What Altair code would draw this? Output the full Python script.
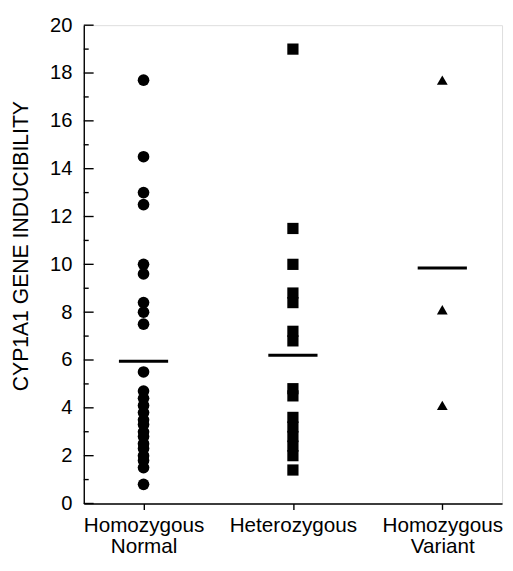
import altair as alt
import pandas as pd

groups = ["Homozygous Normal", "Heterozygous", "Homozygous Variant"]

normal_vals = [17.7, 14.5, 13.0, 12.5, 10.0, 9.6, 8.4, 8.0, 7.5, 5.5,
               4.7, 4.4, 4.1, 3.8, 3.5, 3.3, 3.0, 2.8, 2.5, 2.3, 2.0, 1.8, 1.5, 0.8]
hetero_vals = [19.0, 11.5, 10.0, 8.8, 8.4, 7.2, 6.8, 4.8, 4.5,
               3.6, 3.2, 2.8, 2.4, 2.0, 1.4]
variant_vals = [17.7, 8.1, 4.1]

mean_vals = [5.95, 6.2, 9.85]

major_ticks = [0, 2, 4, 6, 8, 10, 12, 14, 16, 18, 20]
minor_ticks = [1, 3, 5, 7, 9, 11, 13, 15, 17, 19]

FONT = "Liberation Sans"

pts = pd.DataFrame(
    [{"group": groups[0], "value": v} for v in normal_vals]
    + [{"group": groups[1], "value": v} for v in hetero_vals]
    + [{"group": groups[2], "value": v} for v in variant_vals]
)
means = pd.DataFrame({"group": groups, "value": mean_vals})
maj = pd.DataFrame({"value": major_ticks})
mnr = pd.DataFrame({"value": minor_ticks})

xenc = alt.X(
    "group:N",
    sort=groups,
    scale=alt.Scale(type="point", domain=groups, padding=0.4),
    axis=alt.Axis(
        title=None,
        labelAngle=0,
        labelExpr="split(datum.label, ' ')",
        labelFontSize=21,
        labelFont=FONT,
        labelColor="black",
        labelLineHeight=22,
        labelPadding=5,
        tickSize=6,
        tickColor="black",
        domainColor="black",
        domainWidth=1.4,
        tickWidth=1.4,
        grid=False,
    ),
)

yscale = alt.Scale(domain=[0, 20], nice=False)
yenc = alt.Y(
    "value:Q",
    scale=yscale,
    axis=alt.Axis(
        title="CYP1A1 GENE INDUCIBILITY",
        titleFont=FONT,
        titleFontSize=21.5,
        titleFontWeight="normal",
        titleColor="black",
        titlePadding=17,
        titleY=224,
        values=major_ticks,
        labelFont=FONT,
        labelFontSize=20.5,
        labelColor="black",
        labelPadding=12,
        ticks=False,
        domainColor="black",
        domainWidth=1.4,
        grid=False,
    ),
)

base = alt.Chart(pts)

circles = base.transform_filter(alt.datum.group == groups[0]).mark_point(
    shape="circle", filled=True, color="black", size=140, opacity=1
).encode(x=xenc, y=yenc)
squares = base.transform_filter(alt.datum.group == groups[1]).mark_point(
    shape="square", filled=True, color="black", size=130, opacity=1
).encode(x=xenc, y=yenc)
triangles = base.transform_filter(alt.datum.group == groups[2]).mark_point(
    shape="triangle-up", filled=True, color="black", size=120, opacity=1
).encode(x=xenc, y=yenc)

mean_ticks = alt.Chart(means).mark_tick(
    color="black", size=50, thickness=3, opacity=1, orient="horizontal"
).encode(x=xenc, y=yenc)

maj_rules = alt.Chart(maj).mark_rule(color="black", strokeWidth=1.4).encode(
    x=alt.value(0), x2=alt.value(10), y=yenc
)
mnr_rules = alt.Chart(mnr).mark_rule(color="black", strokeWidth=1.4).encode(
    x=alt.value(0), x2=alt.value(5), y=yenc
)

chart = (
    alt.layer(circles, squares, triangles, mean_ticks, maj_rules, mnr_rules)
    .properties(
        width=425,
        height=486,
        autosize=alt.AutoSizeParams(type="none"),
        padding={"left": 77, "top": 13, "right": 3, "bottom": 56},
    )
    .configure_view(stroke=None)
    .configure(background="white")
)

chart.save("out.html", embed_options={"renderer": "svg", "actions": False})
